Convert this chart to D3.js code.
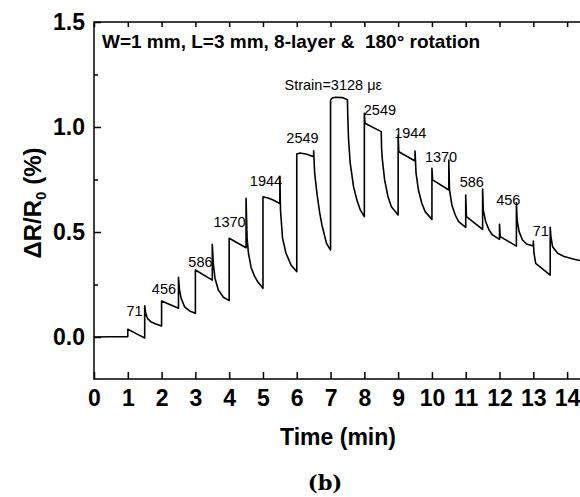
<!DOCTYPE html>
<html>
<head>
<meta charset="utf-8">
<script src="https://cdn.jsdelivr.net/npm/d3@7"></script>
<style>
  body { margin: 0; background: white; }
  svg { display: block; font-family: Arial, 'Liberation Sans', sans-serif; }
  .axis path.domain { display: none; }
  .axis line { stroke: black; stroke-width: 1.5px; }
  .axis text { font-weight: bold; font-size: 23px; fill: black; }
</style>
</head>
<body>
<div id="chart"></div>
<script>
// time (min), dR/R0 (%)
var trace = [
    [0, 0.0], [0.5, 0.001], [1.0, 0.002],
    [1.0, 0.037], [1.25, 0.016], [1.5, -0.005],
    [1.5, 0.149], [1.53, 0.113], [1.58, 0.089], [1.68, 0.073], [1.83, 0.062], [2.0, 0.052],
    [2.0, 0.171], [2.5, 0.137],
    [2.5, 0.284], [2.53, 0.224], [2.58, 0.184], [2.68, 0.144], [2.83, 0.124], [3.0, 0.113],
    [3.0, 0.319], [3.5, 0.271],
    [3.5, 0.441], [3.53, 0.351], [3.58, 0.28], [3.68, 0.224], [3.83, 0.189], [4.0, 0.173],
    [4.0, 0.47], [4.5, 0.425],
    [4.5, 0.66], [4.53, 0.47], [4.57, 0.40], [4.65, 0.33], [4.75, 0.29], [4.85, 0.262], [5.0, 0.232],
    [5.0, 0.668], [5.15, 0.662], [5.3, 0.652], [5.5, 0.636],
    [5.5, 0.765], [5.52, 0.60], [5.58, 0.47], [5.68, 0.40], [5.83, 0.343], [6.0, 0.311],
    [6.0, 0.871], [6.1, 0.876], [6.3, 0.870], [6.5, 0.858],
    [6.5, 0.887], [6.53, 0.78], [6.6, 0.68], [6.68, 0.59], [6.75, 0.53], [6.88, 0.446], [7.0, 0.414],
    [7.0, 1.129], [7.05, 1.138], [7.15, 1.142], [7.35, 1.140], [7.5, 1.130],
    [7.51, 1.05], [7.53, 0.95], [7.58, 0.83], [7.68, 0.716], [7.78, 0.652], [7.88, 0.605], [8.0, 0.573],
    [8.0, 1.065], [8.02, 1.018], [8.5, 0.978],
    [8.51, 0.90], [8.53, 0.85], [8.6, 0.748], [8.7, 0.668], [8.8, 0.62], [9.0, 0.581],
    [9.0, 0.962], [9.02, 0.882], [9.5, 0.838],
    [9.5, 0.886], [9.53, 0.78], [9.6, 0.70], [9.7, 0.637], [9.8, 0.597], [10.0, 0.56],
    [10.0, 0.803], [10.02, 0.748], [10.5, 0.70],
    [10.5, 0.843], [10.52, 0.70], [10.59, 0.629], [10.69, 0.581], [10.79, 0.549], [11.0, 0.522],
    [11.0, 0.676], [11.02, 0.573], [11.5, 0.513],
    [11.5, 0.705], [11.52, 0.605], [11.59, 0.549], [11.69, 0.51], [11.79, 0.486], [12.0, 0.465],
    [12.0, 0.537], [12.02, 0.478], [12.5, 0.433],
    [12.5, 0.64], [12.52, 0.557], [12.58, 0.502], [12.68, 0.462], [12.8, 0.443], [13.0, 0.433],
    [13.0, 0.457], [13.02, 0.40], [13.07, 0.351], [13.5, 0.295],
    [13.5, 0.522], [13.52, 0.478], [13.57, 0.43], [13.72, 0.399], [13.91, 0.383], [14.21, 0.37], [14.5, 0.36]
];

// strain annotations: text, time, value
var strainText = ['71', '456', '586', '1370', '1944', '2549', 'Strain=3128 \u03bc\u03b5',
                  '2549', '1944', '1370', '586', '456', '71'];
var strainT = [1.2, 2.07, 3.15, 4.01, 5.09, 6.17, 7.08, 8.46, 9.36, 10.27, 11.18, 12.26, 13.22];
var strainV = [0.1, 0.205, 0.333, 0.525, 0.719, 0.922, 1.176, 1.057, 0.949, 0.832, 0.716, 0.629, 0.481];

var xTicks = d3.range(0, 15, 1);
var yTicks = [0.0, 0.5, 1.0, 1.5];
var yMinor = [0.25, 0.75, 1.25];

const W = 580, H = 497;
const margins = { left: 94, top: 22, right: -4, bottom: 118 };
const width = W - margins.left - margins.right,
    height = H - margins.top - margins.bottom;

var svg = d3.select('#chart').append('svg')
    .attr('width', W).attr('height', H)
    .style('overflow', 'hidden');

var x = d3.scaleLinear().domain([0, 14.5]).range([margins.left, margins.left + width]);
var y = d3.scaleLinear().domain([-0.2, 1.5]).range([margins.top + height, margins.top]);

// frame
svg.append('rect')
    .attr('x', x(0)).attr('y', y(1.5))
    .attr('width', x(14.5) - x(0)).attr('height', y(-0.2) - y(1.5))
    .style('fill', 'none').style('stroke', 'black').style('stroke-width', 1.5);

svg.append('g')
    .attr('class', 'x axis')
    .attr('transform', 'translate(0,' + y(-0.2) + ')')
    .call(d3.axisBottom(x).tickValues(xTicks).tickFormat(d3.format('d'))
        .tickSizeInner(-7).tickSizeOuter(0).tickPadding(11));

svg.append('g')
    .attr('class', 'x axis')
    .attr('transform', 'translate(0,' + y(1.5) + ')')
    .call(d3.axisTop(x).tickValues(xTicks).tickFormat('')
        .tickSizeInner(-5).tickSizeOuter(0));

svg.append('g')
    .attr('class', 'y axis')
    .attr('transform', 'translate(' + x(0) + ',0)')
    .call(d3.axisLeft(y).tickValues(yTicks).tickFormat(d3.format('.1f'))
        .tickSizeInner(-7).tickSizeOuter(0).tickPadding(9));

svg.append('g')
    .attr('class', 'y axis')
    .attr('transform', 'translate(' + x(0) + ',0)')
    .call(d3.axisLeft(y).tickValues(yMinor).tickFormat('')
        .tickSizeInner(-4).tickSizeOuter(0));

// the trace
var line = d3.line()
    .x(function(d) { return x(d[0]); })
    .y(function(d) { return y(d[1]); });

svg.append('path')
    .datum(trace)
    .attr('d', line)
    .style('fill', 'none').style('stroke', 'black')
    .style('stroke-width', 1.6).style('stroke-linejoin', 'round');

svg.selectAll('.strain').data(strainText)
    .enter().append('text')
    .attr('class', 'strain')
    .attr('x', function(d, i) { return x(strainT[i]); })
    .attr('y', function(d, i) { return y(strainV[i]); })
    .style('text-anchor', 'middle')
    .style('font-size', '14.5px')
    .style('fill', 'black')
    .text(function(d) { return d; });

svg.append('text')
    .attr('x', x(0) + 8).attr('y', y(1.5) + 26)
    .style('font-weight', 'bold').style('font-size', '19px')
    .style('white-space', 'pre')
    .text('W=1 mm, L=3 mm, 8-layer &  180\u00b0 rotation');

svg.append('text')
    .attr('x', 338).attr('y', 445)
    .style('text-anchor', 'middle')
    .style('font-weight', 'bold').style('font-size', '23px')
    .text('Time (min)');

var yLabel = svg.append('text')
    .attr('transform', 'translate(41,203) rotate(-90)')
    .style('text-anchor', 'middle')
    .style('font-weight', 'bold').style('font-size', '24px');
yLabel.append('tspan').text('\u0394R/R');
yLabel.append('tspan').attr('dy', 5).style('font-size', '15px').text('0');
yLabel.append('tspan').attr('dy', -5).text(' (%)');

svg.append('text')
    .attr('x', 325).attr('y', 490)
    .style('text-anchor', 'middle')
    .style('font-family', "'DejaVu Serif', 'Liberation Serif', serif")
    .style('font-weight', 'bold').style('font-size', '21px')
    .text('(b)');
</script>
</body>
</html>
